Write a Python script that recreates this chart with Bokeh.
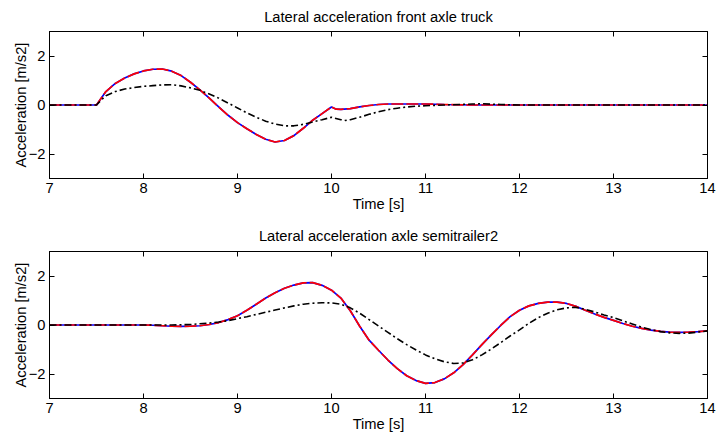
from bokeh.plotting import figure
from bokeh.layouts import column
from bokeh.models import LinearAxis, FixedTicker, Range1d
from bokeh.core.properties import value
from bokeh.embed import file_html
from bokeh.resources import INLINE

# ---- Data: front axle truck ----
t_front_a = [7.0, 7.5, 7.6, 7.7, 7.8, 7.9, 8.0, 8.1, 8.2, 8.3, 8.4, 8.5, 8.6, 8.7, 8.8, 8.9,
             9.0, 9.1, 9.2, 9.3, 9.4, 9.5, 9.6, 9.7, 9.8, 9.9, 10.0, 10.05, 10.1, 10.2, 10.3,
             10.4, 10.5, 10.6, 10.8, 11.0, 11.2, 11.5, 14.0]
acc_front_a = [0, 0, 0.55, 0.88, 1.1, 1.27, 1.39, 1.46, 1.47, 1.38, 1.2, 0.93, 0.62, 0.28, -0.08, -0.42,
               -0.72, -0.97, -1.2, -1.4, -1.51, -1.45, -1.25, -0.95, -0.62, -0.35, -0.08, -0.17, -0.18, -0.15, -0.08,
               -0.02, 0.02, 0.04, 0.04, 0.04, 0.02, 0.0, 0.0]

t_front_b = [7.0, 7.5, 7.55, 7.6, 7.7, 7.8, 7.9, 8.0, 8.1, 8.2, 8.3, 8.4, 8.5, 8.6, 8.7, 8.8, 8.9,
             9.0, 9.1, 9.2, 9.3, 9.4, 9.5, 9.6, 9.7, 9.8, 9.9, 10.0, 10.1, 10.15, 10.2, 10.3, 10.4,
             10.5, 10.6, 10.7, 10.8, 10.9, 11.0, 11.2, 11.5, 11.6, 11.8, 12.0, 14.0]
acc_front_b = [0, 0, 0.2, 0.38, 0.55, 0.65, 0.71, 0.76, 0.79, 0.82, 0.83, 0.78, 0.7, 0.6, 0.45, 0.28, 0.08,
               -0.12, -0.32, -0.5, -0.66, -0.78, -0.85, -0.85, -0.79, -0.69, -0.6, -0.5, -0.6, -0.63, -0.6, -0.5, -0.38,
               -0.28, -0.19, -0.13, -0.08, -0.05, -0.03, 0.0, 0.04, 0.05, 0.02, 0.0, 0.0]

# ---- Data: axle semitrailer2 ----
t_semi_a = [7.0, 8.0, 8.1, 8.2, 8.3, 8.4, 8.5, 8.6, 8.7, 8.8, 8.9, 9.0, 9.1, 9.2, 9.3, 9.4, 9.5,
            9.6, 9.7, 9.8, 9.9, 10.0, 10.1, 10.2, 10.3, 10.4, 10.5, 10.6, 10.7, 10.8, 10.9, 11.0,
            11.1, 11.2, 11.3, 11.4, 11.5, 11.6, 11.7, 11.8, 11.9, 12.0, 12.1, 12.2, 12.3, 12.4,
            12.5, 12.6, 12.7, 12.8, 12.9, 13.0, 13.1, 13.2, 13.3, 13.4, 13.5, 13.6, 13.7, 13.8,
            13.9, 14.0]
acc_semi_a = [0, 0, -0.01, -0.03, -0.05, -0.06, -0.05, -0.03, 0.02, 0.1, 0.22, 0.38, 0.6, 0.85, 1.1, 1.32, 1.5,
              1.63, 1.72, 1.73, 1.62, 1.42, 1.1, 0.58, -0.05, -0.62, -1.03, -1.43, -1.78, -2.07, -2.27, -2.38,
              -2.35, -2.2, -1.95, -1.62, -1.22, -0.8, -0.4, -0.02, 0.34, 0.6, 0.78, 0.88, 0.93, 0.93,
              0.88, 0.76, 0.6, 0.45, 0.31, 0.19, 0.06, -0.05, -0.14, -0.21, -0.26, -0.29, -0.3, -0.29,
              -0.27, -0.24]

t_semi_b = [7.0, 8.0, 8.3, 8.5, 8.7, 8.8, 8.9, 9.0, 9.1, 9.2, 9.3, 9.4, 9.5, 9.6, 9.7, 9.8, 9.9,
            10.0, 10.1, 10.2, 10.3, 10.4, 10.5, 10.6, 10.7, 10.8, 10.9, 11.0, 11.1, 11.2, 11.3, 11.4,
            11.5, 11.6, 11.7, 11.8, 11.9, 12.0, 12.1, 12.2, 12.3, 12.4, 12.5, 12.6, 12.7, 12.8, 12.9,
            13.0, 13.1, 13.2, 13.3, 13.4, 13.5, 13.6, 13.7, 13.8, 13.9, 14.0]
acc_semi_b = [0, 0, 0.0, 0.02, 0.08, 0.12, 0.18, 0.26, 0.34, 0.43, 0.52, 0.61, 0.7, 0.78, 0.85, 0.89, 0.91,
              0.9, 0.85, 0.7, 0.48, 0.22, -0.04, -0.3, -0.56, -0.8, -1.02, -1.22, -1.38, -1.5, -1.57, -1.55,
              -1.42, -1.22, -0.98, -0.72, -0.45, -0.2, 0.07, 0.3, 0.48, 0.62, 0.7, 0.72, 0.64, 0.53, 0.41,
              0.3, 0.17, 0.04, -0.09, -0.19, -0.27, -0.32, -0.34, -0.33, -0.29, -0.24]

titles = ["Lateral acceleration front axle truck", "Lateral acceleration axle semitrailer2"]
x_ticks = [7, 8, 9, 10, 11, 12, 13, 14]
y_ticks = [-2, 0, 2]
x_label = "Time [s]"
y_label = "Acceleration [m/s2]"

FONT = "Liberation Sans"
FS = "14.7px"
X_RANGE = (7, 14)
TITLE_H = 22


def style_axis(ax, ticks, show_labels=True):
    ax.ticker = FixedTicker(ticks=ticks)
    ax.major_tick_in = 5
    ax.major_tick_out = 0
    ax.minor_tick_line_color = None
    ax.axis_line_color = "black"
    ax.axis_line_width = 1
    ax.major_tick_line_color = "black"
    ax.major_label_text_font = FONT
    ax.major_label_text_font_size = FS
    ax.major_label_text_color = "black"
    ax.axis_label_text_font = FONT
    ax.axis_label_text_font_size = FS
    ax.axis_label_text_font_style = "normal"
    ax.axis_label_text_color = "black"
    if not show_labels:
        ax.major_label_text_font_size = "0px"
        ax.major_label_text_alpha = 0
        ax.major_label_standoff = 0


def make_title(text):
    t = figure(width=717, height=TITLE_H, output_backend="svg", toolbar_location=None,
               x_range=Range1d(*X_RANGE), y_range=Range1d(0, TITLE_H),
               x_axis_type=None, y_axis_type=None,
               min_border_left=49, min_border_right=10, min_border_top=0, min_border_bottom=0)
    t.outline_line_color = None
    t.xgrid.visible = False
    t.ygrid.visible = False
    t.text(x=[(X_RANGE[0] + X_RANGE[1]) / 2], y=[6], text=[text],
           text_align="center", text_baseline="alphabetic",
           text_font=value(FONT), text_font_size=value(FS), text_color="black")
    return t


def make_panel(ta, aa, tb, ab, top, bottom):
    p = figure(width=717, height=219 - TITLE_H, output_backend="svg", toolbar_location=None,
               x_range=Range1d(*X_RANGE), y_range=Range1d(-3, 3),
               min_border_left=49, min_border_right=10,
               min_border_top=top, min_border_bottom=bottom)
    p.xgrid.visible = False
    p.ygrid.visible = False
    p.outline_line_color = "black"
    p.background_fill_color = "white"
    p.border_fill_color = "white"

    p.xaxis.axis_label = x_label
    p.yaxis.axis_label = y_label
    style_axis(p.xaxis[0], x_ticks)
    style_axis(p.yaxis[0], y_ticks)
    p.xaxis.major_label_standoff = 4
    p.xaxis.axis_label_standoff = 0
    p.yaxis.major_label_standoff = 4
    p.yaxis.axis_label_standoff = -3

    top_ax = LinearAxis()
    style_axis(top_ax, x_ticks, show_labels=False)
    right_ax = LinearAxis()
    style_axis(right_ax, y_ticks, show_labels=False)
    p.add_layout(top_ax, "above")
    p.add_layout(right_ax, "right")

    p.line(ta, aa, line_color="#0000ff", line_width=1.7)
    p.line(ta, aa, line_color="#ff0000", line_width=1.7, line_dash="12 3")
    p.line(tb, ab, line_color="black", line_width=1.6, line_dash="7 3 2 3")
    return p


t1 = make_title(titles[0])
p1 = make_panel(t_front_a, acc_front_a, t_front_b, acc_front_b, 9, 41)
t2 = make_title(titles[1])
p2 = make_panel(t_semi_a, acc_semi_a, t_semi_b, acc_semi_b, 10, 40)

layout = column(t1, p1, t2, p2, spacing=0)
open("out.html", "w").write(file_html(layout, INLINE))
